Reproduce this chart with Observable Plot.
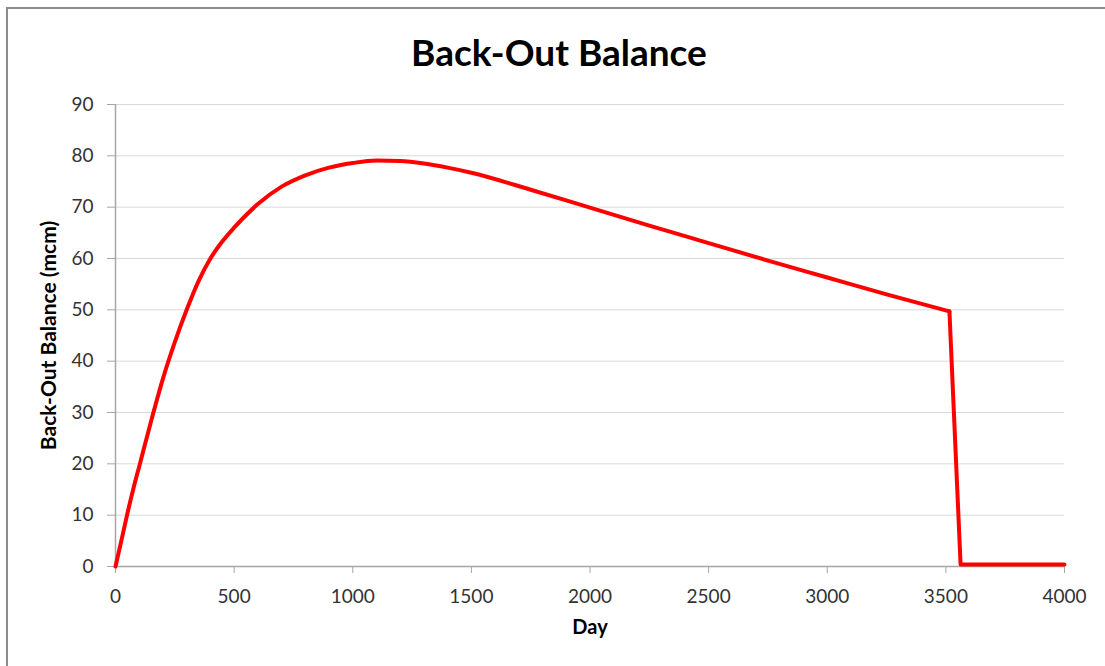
<!DOCTYPE html>
<html>
<head>
<meta charset="utf-8">
<script src="https://cdn.jsdelivr.net/npm/d3@7"></script>
<script src="https://cdn.jsdelivr.net/npm/@observablehq/plot@0.6"></script>
<style>
  html, body { margin: 0; padding: 0; background: #fff; }
  #wrap { position: relative; width: 1105px; height: 666px; overflow: hidden; font-family: Lato, "Open Sans", sans-serif; }
  #frame { position: absolute; left: 6px; top: 7px; width: 1200px; height: 800px;
           border-left: 2px solid #8c8c8c; border-top: 2px solid #8c8c8c; box-sizing: border-box; }
  #title { position: absolute; left: 0; top: 0; width: 1118px; height: 90px; line-height: 104px;
           text-align: center; font-weight: bold; font-size: 37px; color: #000; }
  #chart { position: absolute; left: 0; top: 90px; }
</style>
</head>
<body>
<div id="wrap">
  <div id="frame"></div>
  <div id="title">Back-Out Balance</div>
  <div id="chart"></div>
</div>
<script>
// Cumulative back-out balance by day; the balance collapses just after day 3515
const days    = [0, 25, 50, 75, 100, 150, 200, 250, 300, 350, 400, 450, 500, 600, 700, 800, 900, 1000,
                 1100, 1200, 1300, 1400, 1500, 1750, 2000, 2250, 2500, 2750, 3000, 3250, 3515, 3562, 4000];
const balance = [0, 5.1, 10.3, 15.1, 19.5, 28.3, 36.6, 43.7, 50.0, 55.6, 60.0, 63.3, 66.0, 70.6, 74.0, 76.2, 77.7, 78.6,
                 79.1, 79.0, 78.5, 77.7, 76.7, 73.4, 69.9, 66.4, 63.0, 59.6, 56.3, 53.0, 49.7, 0.4, 0.4];

const dropDay = 3515;

const xTicks = [0, 500, 1000, 1500, 2000, 2500, 3000, 3500, 4000];
const yTicks = [0, 10, 20, 30, 40, 50, 60, 70, 80, 90];

const xTitle = "Day";
const yTitle = "Back-Out Balance (mcm)";

const rows = days.map((d, i) => ({day: d, value: balance[i]}));
const rising = rows.filter(r => r.day <= dropDay);
const drop = rows.filter(r => r.day >= dropDay);

const lineStyle = {x: "day", y: "value", stroke: "#ff0000", strokeWidth: 4, strokeLinejoin: "round"};

const chart = Plot.plot({
  width: 1105,
  height: 576,
  marginLeft: 115,
  marginRight: 41,
  marginTop: 14,
  marginBottom: 100,
  style: {fontFamily: "Lato, 'Open Sans', sans-serif", fontSize: "19px", color: "#333", background: "transparent"},
  x: {domain: [0, 4000]},
  y: {domain: [0, 90]},
  marks: [
    Plot.gridY(yTicks, {stroke: "#d9d9d9", strokeOpacity: 1, strokeWidth: 1}),
    Plot.ruleX([0], {stroke: "#a6a6a6", strokeWidth: 1.5}),
    Plot.ruleY([0], {stroke: "#a6a6a6", strokeWidth: 1.5}),
    Plot.axisY({ticks: yTicks, tickSize: 8, tickPadding: 14, tickFormat: d => String(d), stroke: "#a6a6a6", fill: "#333", label: null}),
    Plot.axisX({ticks: xTicks, tickSize: 7, tickPadding: 16, tickFormat: d => String(d), stroke: "#a6a6a6", fill: "#333", label: null}),
    Plot.line(rising, {...lineStyle, curve: "monotone-x"}),
    Plot.line(drop, {...lineStyle, curve: "linear"}),
    Plot.text([yTitle], {frameAnchor: "left", dx: -66, rotate: -90, textAnchor: "middle", fontWeight: "bold", fontSize: 21, fill: "#000"}),
    Plot.text([xTitle], {frameAnchor: "bottom", dy: 67, textAnchor: "middle", fontWeight: "bold", fontSize: 20, fill: "#000"})
  ]
});

document.getElementById("chart").appendChild(chart);
</script>
</body>
</html>
